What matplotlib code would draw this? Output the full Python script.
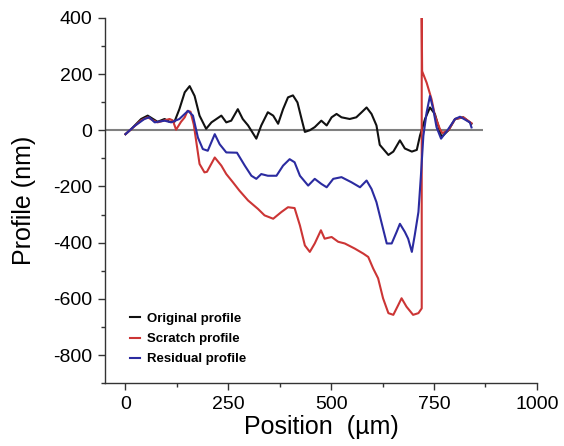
"""
plot.py
Surface profiles across a scratch: original, scratch and residual.
"""

import matplotlib
matplotlib.use("Agg")
import matplotlib.pyplot as plt
from matplotlib.ticker import MultipleLocator

plt.rcParams["font.family"] = ["Liberation Sans", "DejaVu Sans"]
plt.rcParams["axes.unicode_minus"] = False

# ── Data ───────────────────────────────────────────────────────────────
orig_x = [0, 14, 38, 54, 67, 78, 95, 107, 119, 131, 144, 156, 168, 180, 196,
          209, 221, 233, 245, 257, 273, 285, 298, 318, 330, 346, 359, 371,
          383, 395, 407, 418, 428, 436, 448, 460, 476, 489, 501, 513, 525,
          545, 561, 574, 586, 598, 610, 618, 639, 651, 667, 679, 696, 708,
          716, 728, 740, 752, 768, 785, 801, 821, 841]
orig_y = [-14, 4, 40, 52, 40, 30, 40, 30, 30, 75, 135, 157, 122, 52, 5,
          28, 40, 52, 28, 34, 75, 40, 17, -30, 17, 64, 52, 23,
          75, 117, 124, 99, 40, -6, 0, 11, 34, 17, 46, 58, 46,
          40, 46, 64, 81, 58, 17, -52, -88, -76, -36, -65, -76, -70,
          -18, 40, 81, 58, -24, 0, 40, 46, 23]

scratch_x = [0, 14, 38, 54, 67, 78, 95, 107, 115, 123, 135, 144, 151, 158,
             166, 172, 180, 192, 198, 217, 233, 245, 261, 277, 298, 322, 338,
             359, 379, 395, 411, 424, 436, 448, 460, 475, 484, 501, 517, 533,
             557, 578, 590, 602, 614, 626, 639, 651, 663, 671, 683, 699, 712,
             720, 720, 721, 732, 744, 752, 764, 770, 785, 801, 821, 841]
scratch_y = [-14, 4, 35, 46, 35, 28, 35, 40, 35, 2, 30, 46, 69, 66,
             20, -40, -120, -150, -148, -97, -126, -156, -185, -215, -250, -280, -303,
             -315, -291, -274, -277, -339, -410, -433, -403, -356, -386, -380, -397, -403,
             -421, -439, -451, -492, -527, -598, -651, -657, -622, -598, -628, -657, -651,
             -634, 400, 210, 169, 110, 52, 5, -10, 0, 40, 46, 25]

resid_x = [0, 22, 46, 58, 71, 95, 111, 131, 152, 164, 176, 188, 200, 217,
           229, 245, 271, 290, 306, 318, 330, 346, 367, 383, 399, 411, 424,
           444, 460, 476, 489, 505, 525, 549, 570, 586, 598, 610, 622, 635,
           647, 659, 667, 679, 687, 696, 703, 712, 718, 724, 732, 740, 748,
           756, 767, 785, 801, 813, 837, 841]
resid_y = [-14, 15, 40, 46, 28, 34, 28, 40, 69, 52, -26, -67, -73, -14,
           -50, -79, -80, -126, -162, -173, -156, -162, -162, -126, -103, -114, -162,
           -197, -173, -191, -203, -173, -167, -185, -203, -179, -209, -256, -327, -403,
           -403, -362, -333, -362, -386, -433, -374, -291, -162, -20, 64, 122, 75,
           11, -30, 5, 40, 48, 28, 10]

labels = ["Original profile", "Scratch profile", "Residual profile"]
colors = ["#111111", "#cc3535", "#2b2ba0"]


# ── Figure ─────────────────────────────────────────────────────────────
fig = plt.figure(figsize=(5.64, 4.46), dpi=100)
ax = fig.add_axes([0.186, 0.141, 0.766, 0.819])

ax.hlines(0, -50, 870, color="#808080", lw=1.5, zorder=1)

series = [(orig_x, orig_y), (scratch_x, scratch_y), (resid_x, resid_y)]
for (xs, ys), lab, col in zip(series, labels, colors):
    ax.plot(xs, ys, color=col, lw=1.5, label=lab, zorder=2,
            solid_joinstyle="round")

ax.set_xlim(-50, 1000)
ax.set_ylim(-900, 400)
ax.xaxis.set_major_locator(MultipleLocator(250))
ax.xaxis.set_minor_locator(MultipleLocator(125))
ax.yaxis.set_major_locator(MultipleLocator(200))
ax.yaxis.set_minor_locator(MultipleLocator(100))

for side in ("top", "right"):
    ax.spines[side].set_visible(False)
for side in ("left", "bottom"):
    ax.spines[side].set_linewidth(1.0)
    ax.spines[side].set_color("#333333")

ax.tick_params(which="major", direction="out", length=5, width=1,
               labelsize=14, pad=4, colors="#333333", labelcolor="black")
ax.tick_params(which="minor", direction="out", length=3, width=1,
               colors="#333333")

ax.set_xlabel("Position  (µm)", fontsize=18, labelpad=2)
ax.set_ylabel("Profile (nm)", fontsize=18, labelpad=12)

leg = ax.legend(loc="lower left", bbox_to_anchor=(0.045, 0.034),
                frameon=False, handlelength=0.8, handletextpad=0.5,
                labelspacing=0.6, borderaxespad=0,
                prop={"size": 9.5, "weight": "bold"})

fig.savefig("out.png", dpi=100)
plt.close(fig)
